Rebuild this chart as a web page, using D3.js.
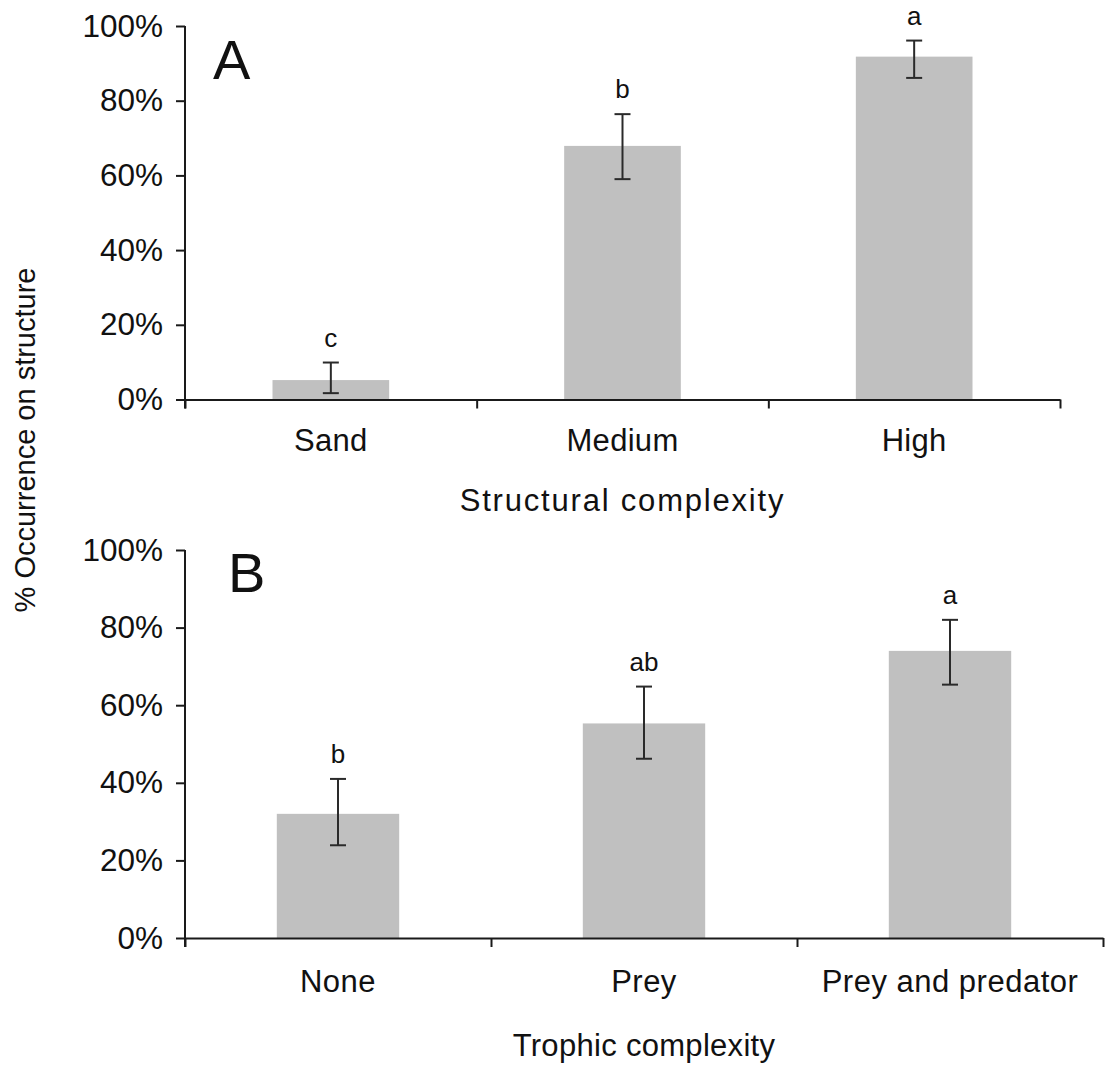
<!DOCTYPE html>
<html>
<head>
<meta charset="utf-8">
<script src="https://cdn.jsdelivr.net/npm/d3@7"></script>
<style>
  html, body { margin: 0; padding: 0; background: #fff; }
  svg { display: block; }
  text { font-family: "Liberation Sans", Arial, Helvetica, sans-serif; fill: #111; }
</style>
</head>
<body>
<svg id="chart" width="1105" height="1066"></svg>
<script>
// ---- Data ----
const categoriesA = ["Sand", "Medium", "High"];
const valuesA     = [5.2, 67.9, 91.8];
const errUpperA   = [9.9, 76.4, 96.1];
const errLowerA   = [1.7, 59.0, 86.1];
const lettersA    = ["c", "b", "a"];

const categoriesB = ["None", "Prey", "Prey and predator"];
const valuesB     = [32.0, 55.3, 74.0];
const errUpperB   = [41.0, 64.8, 82.0];
const errLowerB   = [23.9, 46.2, 65.3];
const lettersB    = ["b", "ab", "a"];

const yTickValues = [0, 20, 40, 60, 80, 100];
const panelLabels = ["A", "B"];
const xTitles     = ["Structural complexity", "Trophic complexity"];
const yTitle      = "% Occurrence on structure";

// ---- Layout ----
const svg = d3.select("#chart");
const BAR_COLOR = "#c0c0c0";
const AXIS_COLOR = "#1a1a1a";
const ERR_COLOR = "#2a2a2a";

function drawPanel(opt) {
  const g = svg.append("g");
  const x = d3.scaleBand().domain(opt.cats).range([opt.left, opt.right]).padding(0);
  const xBound = d3.scaleLinear().domain([0, opt.cats.length]).range([opt.left, opt.right]);
  const y = d3.scaleLinear().domain([0, 100]).range([opt.bottom, opt.top]);
  const barW = x.bandwidth() * 0.4;

  const data = opt.cats.map((c, i) => ({
    c, v: opt.vals[i], hi: opt.hi[i], lo: opt.lo[i], letter: opt.letters[i]
  }));

  // bars
  g.selectAll("rect.bar").data(data).join("rect")
    .attr("class", "bar")
    .attr("x", d => x(d.c) + x.bandwidth() / 2 - barW / 2)
    .attr("width", barW)
    .attr("y", d => y(d.v))
    .attr("height", d => y(0) - y(d.v))
    .attr("fill", BAR_COLOR);

  // error bars
  const eg = g.selectAll("g.err").data(data).join("g").attr("class", "err")
    .attr("transform", d => `translate(${x(d.c) + x.bandwidth() / 2},0)`);
  eg.append("line").attr("x1", 0).attr("x2", 0)
    .attr("y1", d => y(d.hi)).attr("y2", d => y(d.lo))
    .attr("stroke", ERR_COLOR).attr("stroke-width", 2);
  eg.append("line").attr("x1", -8).attr("x2", 8)
    .attr("y1", d => y(d.hi)).attr("y2", d => y(d.hi))
    .attr("stroke", ERR_COLOR).attr("stroke-width", 2);
  eg.append("line").attr("x1", -8).attr("x2", 8)
    .attr("y1", d => y(d.lo)).attr("y2", d => y(d.lo))
    .attr("stroke", ERR_COLOR).attr("stroke-width", 2);
  eg.append("text")
    .attr("x", 0).attr("y", d => y(d.hi) - 16)
    .attr("text-anchor", "middle")
    .attr("font-size", 26)
    .text(d => d.letter);

  // y axis
  const yAxis = d3.axisLeft(y).tickValues(yTickValues)
    .tickFormat(d => d + "%").tickSize(9).tickSizeOuter(0).tickPadding(13);
  const ya = g.append("g").attr("transform", `translate(${opt.left},0)`).call(yAxis);
  ya.select(".domain").attr("stroke", AXIS_COLOR).attr("stroke-width", 2)
    .attr("d", `M0,${opt.top}V${opt.bottom + 9}`);
  ya.selectAll(".tick line").attr("stroke", AXIS_COLOR).attr("stroke-width", 2);
  ya.selectAll(".tick text").attr("font-size", 31.5).attr("fill", "#111")
    .attr("font-family", '"Liberation Sans", Arial, sans-serif');

  // x axis boundary ticks
  const xAxis = d3.axisBottom(xBound).tickValues(d3.range(opt.cats.length + 1))
    .tickFormat("").tickSize(9).tickSizeOuter(0);
  const xa = g.append("g").attr("transform", `translate(0,${opt.bottom})`).call(xAxis);
  xa.select(".domain").attr("stroke", AXIS_COLOR).attr("stroke-width", 2);
  xa.selectAll(".tick line").attr("stroke", AXIS_COLOR).attr("stroke-width", 2);

  // category labels
  const labAxis = d3.axisBottom(x).tickSize(0).tickPadding(0);
  const la = g.append("g").attr("transform", `translate(0,${opt.bottom})`).call(labAxis);
  la.select(".domain").remove();
  la.selectAll(".tick text").attr("font-size", 31)
    .attr("fill", "#111")
    .attr("font-family", '"Liberation Sans", Arial, sans-serif')
    .attr("letter-spacing", opt.catSpacing)
    .attr("dy", null).attr("y", opt.catBaseline);

  // x title
  g.append("text")
    .attr("x", (opt.left + opt.right) / 2)
    .attr("y", opt.bottom + opt.titleBaseline)
    .attr("text-anchor", "middle")
    .attr("font-size", 31)
    .attr("letter-spacing", opt.titleSpacing)
    .text(opt.xTitle);

  // panel letter
  g.append("text")
    .attr("x", opt.letterX).attr("y", opt.letterY)
    .attr("font-size", 56)
    .text(opt.panel);
}

drawPanel({
  cats: categoriesA, vals: valuesA, hi: errUpperA, lo: errLowerA, letters: lettersA,
  left: 185, right: 1060, top: 26, bottom: 399.5,
  catBaseline: 51, titleBaseline: 111, xTitle: xTitles[0],
  catSpacing: 0.3, titleSpacing: 1.8,
  panel: panelLabels[0], letterX: 213, letterY: 79
});

drawPanel({
  cats: categoriesB, vals: valuesB, hi: errUpperB, lo: errLowerB, letters: lettersB,
  left: 185, right: 1103, top: 550, bottom: 938,
  catBaseline: 54, titleBaseline: 118, xTitle: xTitles[1],
  catSpacing: 0.5, titleSpacing: 0.3,
  panel: panelLabels[1], letterX: 228, letterY: 592
});

// shared y title
svg.append("text")
  .attr("transform", "translate(35,440) rotate(-90)")
  .attr("text-anchor", "middle")
  .attr("font-size", 29)
  .text(yTitle);
</script>
</body>
</html>
